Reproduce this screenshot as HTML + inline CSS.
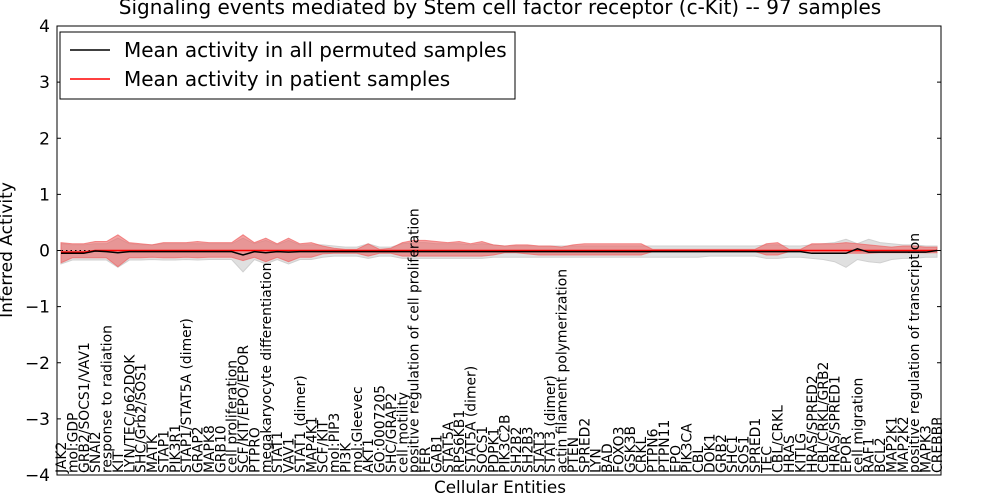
<!DOCTYPE html>
<html><head><meta charset="utf-8"><style>
body{margin:0;background:#fff;font-family:"Liberation Sans","DejaVu Sans",sans-serif}
svg{display:block}
</style></head><body>
<svg id="chart" width="1000" height="500" xmlns="http://www.w3.org/2000/svg" font-family="DejaVu Sans, Liberation Sans, sans-serif">
<text x="500" y="14" text-anchor="middle" font-size="20">Signaling events mediated by Stem cell factor receptor (c-Kit) -- 97 samples</text>
<g id="bands"></g><g id="lines"></g>
<rect x="57" y="26" width="884" height="449" fill="none" stroke="#000" stroke-width="1"/>
<g id="yticks"></g><g id="xlabels"></g>
<text transform="translate(12,250) rotate(-90)" text-anchor="middle" font-size="17">Inferred Activity</text>
<text x="500" y="493" text-anchor="middle" font-size="16.8">Cellular Entities</text>
<g>
<rect x="60" y="32" width="455" height="67" fill="#fff" stroke="#000"/>
<line x1="70" y1="50" x2="110" y2="50" stroke="#000" stroke-width="1.5"/>
<text x="124" y="57" font-size="20">Mean activity in all permuted samples</text>
<line x1="70" y1="79" x2="110" y2="79" stroke="#f00" stroke-width="1.5"/>
<text x="124" y="86" font-size="20">Mean activity in patient samples</text>
</g>
</svg>
<script>
const categories=["JAK2","mol:GDP","GRB2/SOCS1/VAV1","SNAI2","response to radiation","KIT","LYN/TEC/p62DOK","SHC/Grb2/SOS1","MATK","STAP1","PIK3R1","STAP1/STAT5A (dimer)","GRAP2","MAPK8","GRB10","cell proliferation","SCF/KIT/EPO/EPOR","PTPRO","megakaryocyte differentiation","STAT1","VAV1","STAT1 (dimer)","MAP4K1","SCF/KIT","mol:PIP3","PI3K","mol:Gleevec","AKT1","GO:0007205","SHC/GRAP2","cell motility","positive regulation of cell proliferation","FER","GAB1","STAT5A","RPS6KB1","STAT5A (dimer)","SOCS1","PDPK1","PIK3C2B","SH2B2","SH2B3","STAT3","STAT3 (dimer)","actin filament polymerization","PTEN","SPRED2","LYN","BAD","FOXO3","GSK3B","CRKL","PTPN6","PTPN11","EPO","PIK3CA","CBL","DOK1","GRB2","SHC1","SOS1","SPRED1","TEC","CBL/CRKL","HRAS","KITLG","HRAS/SPRED2","CBL/CRKL/GRB2","HRAS/SPRED1","EPOR","cell migration","RAF1","BCL2","MAP2K1","MAP2K2","positive regulation of transcription","MAPK3","CREBBP"];
const redUp=[.14,.12,.12,.16,.16,.28,.14,.12,.10,.14,.14,.14,.16,.14,.14,.14,.28,.14,.22,.12,.22,.12,.14,.08,.04,.02,.02,.12,.02,.04,.14,.18,.18,.16,.14,.16,.12,.16,.10,.08,.10,.10,.08,.08,.06,.10,.12,.12,.12,.12,.12,.12,.02,.02,.02,.02,.02,.02,.02,.02,.02,.02,.12,.14,.02,.02,.12,.12,.12,.14,.12,.10,.08,.06,.08,.08,.06,.06];
const redLo=[-.22,-.13,-.13,-.13,-.13,-.29,-.13,-.13,-.12,-.13,-.13,-.12,-.13,-.12,-.12,-.12,-.18,-.12,-.2,-.12,-.2,-.12,-.12,-.06,-.05,-.05,-.05,-.1,-.05,-.05,-.1,-.1,-.1,-.1,-.1,-.1,-.1,-.1,-.08,-.04,-.04,-.06,-.08,-.08,-.08,-.08,-.08,-.08,-.08,-.08,-.08,-.08,-.02,-.02,-.02,-.02,-.02,-.02,-.02,-.02,-.02,-.02,-.08,-.08,-.02,-.02,-.05,-.05,-.05,-.05,-.05,-.05,-.04,-.04,-.04,-.04,-.04,-.04];
const greyUp=[.12,.10,.10,.12,.12,.22,.12,.10,.10,.12,.12,.12,.12,.12,.12,.12,.22,.12,.18,.10,.18,.10,.10,.10,.08,.06,.06,.12,.06,.06,.12,.14,.14,.12,.12,.12,.10,.12,.10,.08,.08,.08,.08,.08,.08,.08,.08,.08,.08,.08,.08,.08,.08,.08,.08,.08,.08,.08,.08,.08,.08,.08,.10,.10,.08,.08,.10,.12,.14,.20,.12,.20,.14,.12,.10,.10,.08,.08];
const greyLo=[-.24,-.17,-.17,-.17,-.17,-.3,-.17,-.17,-.16,-.17,-.17,-.16,-.17,-.16,-.16,-.16,-.38,-.16,-.24,-.16,-.24,-.16,-.16,-.12,-.1,-.1,-.1,-.14,-.1,-.1,-.14,-.14,-.14,-.14,-.14,-.14,-.14,-.14,-.12,-.12,-.12,-.12,-.12,-.12,-.12,-.12,-.12,-.12,-.12,-.12,-.12,-.12,-.12,-.12,-.12,-.12,-.12,-.1,-.1,-.1,-.1,-.1,-.14,-.14,-.12,-.12,-.14,-.16,-.2,-.3,-.16,-.2,-.22,-.16,-.14,-.14,-.12,-.12];
const blackMean=[-.05,-.05,-.05,-.01,-.02,-.04,-.02,-.02,-.02,-.02,-.02,-.02,-.02,-.02,-.02,-.02,-.08,-.02,-.04,-.02,-.03,-.02,-.02,-.02,-.02,-.02,-.02,-.02,-.02,-.02,-.02,-.02,-.02,-.02,-.02,-.02,-.02,-.02,-.02,-.02,-.02,-.02,-.02,-.02,-.02,-.02,-.02,-.02,-.02,-.02,-.02,-.02,-.02,-.02,-.02,-.02,-.02,-.02,-.02,-.02,-.02,-.02,-.02,-.02,-.02,-.02,-.05,-.05,-.05,-.05,.03,-.03,-.03,-.03,-.03,-.03,-.03,0];
const redMean=[-.03,-.03,-.03,0,0,0,0,0,0,0,0,0,0,0,0,0,0,0,0,0,0,0,0,0,0,0,0,0,0,0,0,0,0,0,0,0,0,0,0,0,0,0,0,0,0,0,0,0,0,0,0,0,0,0,0,0,0,0,0,0,0,0,0,0,0,0,0,0,0,0,0,0,0,0,0,0,0,0];
const yTicks=[-4,-3,-2,-1,0,1,2,3,4];
const NS="http://www.w3.org/2000/svg";
const X=i=>61+i*(937-61)/(categories.length-1);
const Y=v=>250.5-v*56.125;
function mk(t,a,p){const e=document.createElementNS(NS,t);for(const k in a)e.setAttribute(k,a[k]);p.appendChild(e);return e;}
function band(up,lo){let d="";up.forEach((v,i)=>d+=(i?"L":"M")+X(i)+","+Y(v));for(let i=lo.length-1;i>=0;i--)d+="L"+X(i)+","+Y(lo[i]);return d+"Z";}
function line(a){return a.map((v,i)=>(i?"L":"M")+X(i)+","+Y(v)).join("");}
const bands=document.getElementById("bands"),lines=document.getElementById("lines");
let g=mk("path",{d:band(greyUp,greyLo),fill:"#e0e0e0",stroke:"#d0d0d0"},bands);


let r=mk("path",{d:band(redUp,redLo),fill:"rgba(235,100,100,0.6)",stroke:"rgba(240,100,100,0.7)"},bands);


let z=mk("line",{x1:57,x2:941,y1:Y(0),y2:Y(0),stroke:"#000","stroke-dasharray":"1.5,3"},lines);


let rl=mk("path",{d:line(redMean),fill:"none",stroke:"#f00","stroke-width":1.5},lines);


let bl=mk("path",{d:line(blackMean),fill:"none",stroke:"#000","stroke-width":1.5},lines);


const yt=document.getElementById("yticks");
yTicks.forEach(v=>{
  const y=Y(v);
  mk("line",{x1:57,x2:61,y1:y,y2:y,stroke:"#000"},yt);
  mk("line",{x1:937,x2:941,y1:y,y2:y,stroke:"#000"},yt);
  const t=mk("text",{x:50,y:y+6,"text-anchor":"end","font-size":17},yt);
  t.textContent=v<0?"\u2212"+(-v):String(v);
  
  
});
const xl=document.getElementById("xlabels");
categories.forEach((c,i)=>{
  const x=X(i);
  const t=mk("text",{transform:`translate(${x+5},473) rotate(-90)`,"font-size":13.9},xl);
  t.textContent=c;
  
  
});
</script>
</body></html>
